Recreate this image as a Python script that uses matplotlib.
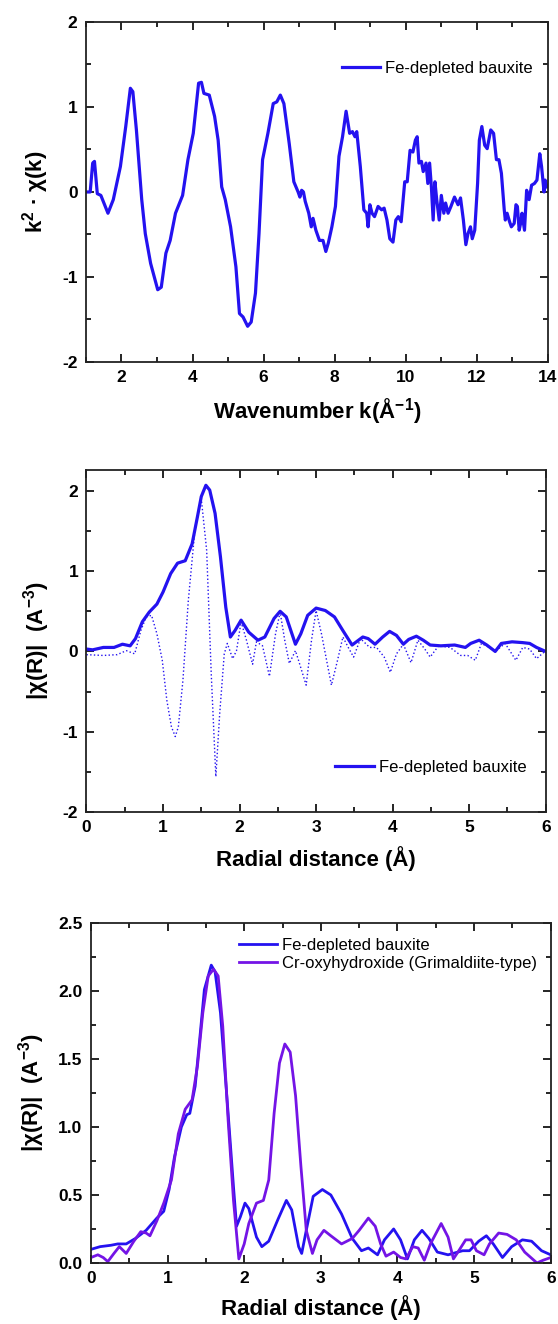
import matplotlib
matplotlib.use('Agg')
import matplotlib.pyplot as plt
from matplotlib.ticker import MultipleLocator, FormatStrFormatter

plt.rcParams['font.family'] = ['Liberation Sans', 'DejaVu Sans']
plt.rcParams['mathtext.default'] = 'regular'
plt.rcParams['axes.unicode_minus'] = False

# panel 1: k-space EXAFS
k = [1.0, 1.12, 1.19, 1.24, 1.32, 1.42, 1.62, 1.77, 1.97, 2.12, 2.25, 2.32, 2.42, 2.57, 2.67,
     2.82, 3.02, 3.12, 3.25, 3.37, 3.52, 3.72, 3.87, 4.02, 4.17, 4.25, 4.32, 4.47, 4.62, 4.72,
     4.82, 4.92, 5.07, 5.22, 5.32, 5.42, 5.55, 5.65, 5.77, 5.87, 5.97, 6.12, 6.27, 6.37, 6.47,
     6.57, 6.72, 6.85, 6.97, 7.02, 7.07, 7.12, 7.17, 7.27, 7.34, 7.39, 7.47, 7.57, 7.67, 7.75,
     7.82, 7.92, 8.02, 8.12, 8.22, 8.32, 8.42, 8.5, 8.57, 8.62, 8.72, 8.82, 8.9, 8.94, 8.99,
     9.05, 9.12, 9.22, 9.32, 9.39, 9.47, 9.55, 9.64, 9.72, 9.79, 9.87, 9.97, 10.04, 10.12, 10.2,
     10.27, 10.32, 10.37, 10.44, 10.49, 10.57, 10.62, 10.67, 10.72, 10.77, 10.82, 10.87, 10.94,
     11.0, 11.07, 11.12, 11.19, 11.27, 11.37, 11.47, 11.54, 11.62, 11.69, 11.75, 11.82, 11.87,
     11.94, 12.02, 12.07, 12.14, 12.22, 12.29, 12.39, 12.47, 12.55, 12.62, 12.69, 12.77, 12.8,
     12.85, 12.92, 12.97, 13.05, 13.1, 13.14, 13.19, 13.24, 13.27, 13.34, 13.4, 13.47, 13.54,
     13.62, 13.69, 13.77, 13.82, 13.89, 13.92, 13.97]
chi_k = [0.0, 0.0, 0.34, 0.36, -0.02, -0.04, -0.25, -0.09, 0.3, 0.77, 1.22, 1.18, 0.73, -0.09,
         -0.49, -0.84, -1.15, -1.12, -0.72, -0.57, -0.25, -0.04, 0.38, 0.69, 1.28, 1.29, 1.16,
         1.14, 0.89, 0.61, 0.06, -0.09, -0.41, -0.88, -1.43, -1.47, -1.58, -1.53, -1.19, -0.49,
         0.38, 0.69, 1.04, 1.06, 1.14, 1.04, 0.57, 0.12, 0.0, -0.06, 0.02, 0.0, -0.11, -0.25,
         -0.41, -0.31, -0.45, -0.57, -0.57, -0.70, -0.6, -0.41, -0.17, 0.42, 0.65, 0.95, 0.69,
         0.71, 0.65, 0.71, 0.3, -0.21, -0.25, -0.41, -0.15, -0.25, -0.29, -0.17, -0.21, -0.19,
         -0.33, -0.55, -0.59, -0.33, -0.29, -0.35, 0.12, 0.12, 0.49, 0.47, 0.61, 0.65, 0.34,
         0.36, 0.24, 0.34, 0.1, 0.34, 0.06, -0.33, 0.12, -0.09, -0.33, -0.04, -0.25, -0.13,
         -0.25, -0.17, -0.06, -0.15, -0.07, -0.33, -0.62, -0.49, -0.41, -0.55, -0.45, 0.1, 0.61,
         0.77, 0.55, 0.51, 0.73, 0.69, 0.38, 0.38, 0.22, -0.21, -0.33, -0.25, -0.35, -0.41,
         -0.37, -0.15, -0.17, -0.45, -0.35, -0.25, -0.45, 0.02, -0.09, 0.08, 0.1, 0.14, 0.45,
         0.3, 0.0, 0.14, 0.06]

# panel 2: Fourier transform magnitude and real part
r_mag = [0, 0.08, 0.22, 0.36, 0.47, 0.57, 0.64, 0.73, 0.82, 0.92, 1.0, 1.1, 1.19, 1.29, 1.38,
         1.45, 1.5, 1.56, 1.61, 1.68, 1.75, 1.82, 1.88, 1.94, 2.02, 2.12, 2.24, 2.33, 2.45, 2.53,
         2.61, 2.73, 2.8, 2.89, 3.0, 3.12, 3.24, 3.35, 3.47, 3.61, 3.68, 3.77, 3.87, 3.96, 4.05,
         4.14, 4.21, 4.31, 4.4, 4.49, 4.63, 4.81, 4.95, 5.02, 5.13, 5.23, 5.34, 5.42, 5.56, 5.7,
         5.79, 5.88, 6.0]
mag = [0.03, 0.02, 0.05, 0.05, 0.09, 0.07, 0.16, 0.37, 0.49, 0.59, 0.74, 0.97, 1.1, 1.13, 1.34,
       1.68, 1.93, 2.07, 2.01, 1.72, 1.18, 0.55, 0.18, 0.26, 0.39, 0.24, 0.14, 0.18, 0.41, 0.5,
       0.43, 0.09, 0.22, 0.45, 0.54, 0.51, 0.43, 0.26, 0.08, 0.18, 0.16, 0.09, 0.18, 0.25, 0.2,
       0.09, 0.15, 0.19, 0.14, 0.08, 0.07, 0.08, 0.05, 0.1, 0.14, 0.08, 0.0, 0.1, 0.12, 0.11,
       0.1, 0.05, 0.0]
r_re = [0, 0.22, 0.4, 0.52, 0.63, 0.71, 0.78, 0.85, 0.92, 0.99, 1.05, 1.11, 1.16, 1.2, 1.26,
        1.33, 1.42, 1.5, 1.57, 1.63, 1.69, 1.74, 1.8, 1.84, 1.91, 1.96, 2.02, 2.09, 2.17, 2.22,
        2.3, 2.39, 2.47, 2.53, 2.59, 2.65, 2.73, 2.77, 2.87, 2.94, 3.0, 3.07, 3.2, 3.28, 3.35,
        3.42, 3.49, 3.58, 3.7, 3.79, 3.89, 3.97, 4.05, 4.14, 4.24, 4.33, 4.42, 4.49, 4.6, 4.75,
        4.89, 4.98, 5.08, 5.16, 5.26, 5.34, 5.47, 5.61, 5.7, 5.79, 5.88, 6.0]
re = [-0.04, -0.05, -0.04, 0.01, -0.03, 0.26, 0.43, 0.45, 0.22, -0.11, -0.61, -0.94, -1.06,
      -0.94, -0.36, 0.63, 1.55, 1.9, 1.26, -0.28, -1.56, -0.78, -0.03, 0.1, -0.09, 0.01, 0.37,
      0.14, -0.16, 0.12, 0.07, -0.31, 0.22, 0.49, 0.14, -0.15, 0.01, -0.11, -0.42, 0.14, 0.51,
      0.22, -0.42, -0.11, 0.18, 0.05, -0.07, 0.16, 0.05, 0.05, -0.07, -0.26, -0.03, 0.09,
      -0.14, 0.14, 0.03, -0.07, 0.07, 0.05, -0.05, -0.05, -0.11, 0.1, 0.05, 0.0, 0.1, -0.11,
      0.05, 0.03, -0.09, 0.01]

# panel 3: comparison with reference
r_fe = [0, 0.12, 0.26, 0.35, 0.46, 0.58, 0.72, 0.86, 0.95, 1.02, 1.09, 1.18, 1.25, 1.29, 1.36,
        1.42, 1.48, 1.57, 1.62, 1.69, 1.79, 1.86, 1.9, 1.95, 2.01, 2.06, 2.16, 2.23, 2.32, 2.44,
        2.55, 2.62, 2.71, 2.75, 2.81, 2.9, 3.02, 3.13, 3.27, 3.41, 3.53, 3.62, 3.74, 3.83, 3.95,
        4.04, 4.13, 4.22, 4.32, 4.41, 4.52, 4.66, 4.85, 4.94, 5.06, 5.16, 5.25, 5.37, 5.49, 5.63,
        5.75, 5.88, 6.0]
fe = [0.1, 0.12, 0.13, 0.14, 0.14, 0.18, 0.24, 0.33, 0.38, 0.54, 0.78, 1.0, 1.09, 1.1, 1.3,
      1.65, 2.01, 2.19, 2.14, 1.84, 1.1, 0.56, 0.27, 0.34, 0.44, 0.4, 0.19, 0.12, 0.16, 0.32,
      0.46, 0.39, 0.12, 0.07, 0.24, 0.49, 0.54, 0.5, 0.36, 0.18, 0.09, 0.11, 0.06, 0.17, 0.25,
      0.17, 0.03, 0.17, 0.24, 0.18, 0.08, 0.06, 0.09, 0.09, 0.16, 0.2, 0.14, 0.04, 0.12, 0.17,
      0.16, 0.09, 0.06]
r_cr = [0, 0.09, 0.16, 0.22, 0.3, 0.37, 0.46, 0.56, 0.65, 0.72, 0.77, 0.86, 0.95, 1.05, 1.14,
        1.23, 1.32, 1.39, 1.46, 1.53, 1.6, 1.66, 1.72, 1.79, 1.86, 1.93, 2.0, 2.06, 2.16, 2.25,
        2.32, 2.39, 2.46, 2.53, 2.6, 2.67, 2.74, 2.81, 2.89, 2.95, 3.04, 3.13, 3.27, 3.41, 3.5,
        3.62, 3.71, 3.78, 3.85, 3.95, 4.04, 4.11, 4.2, 4.27, 4.35, 4.43, 4.57, 4.66, 4.73, 4.8,
        4.89, 4.96, 5.03, 5.13, 5.2, 5.32, 5.43, 5.55, 5.66, 5.82, 5.9, 6.0]
cr = [0.04, 0.06, 0.04, 0.01, 0.07, 0.12, 0.07, 0.16, 0.23, 0.22, 0.2, 0.31, 0.44, 0.61, 0.95,
      1.13, 1.2, 1.45, 1.84, 2.11, 2.16, 2.11, 1.74, 1.05, 0.46, 0.03, 0.14, 0.29, 0.44, 0.46,
      0.61, 1.1, 1.47, 1.61, 1.55, 1.23, 0.71, 0.24, 0.07, 0.17, 0.24, 0.2, 0.14, 0.18, 0.24,
      0.33, 0.27, 0.14, 0.05, 0.08, 0.04, 0.03, 0.12, 0.11, 0.02, 0.14, 0.29, 0.19, 0.03, 0.09,
      0.17, 0.17, 0.09, 0.06, 0.14, 0.22, 0.21, 0.17, 0.08, 0.0, 0.02, 0.04]

blue = '#2412f0'
purple = '#7414e6'

fig = plt.figure(figsize=(5.58, 13.24), dpi=100)
ax1 = fig.add_axes([0.154, 0.7266, 0.828, 0.2568])
ax2 = fig.add_axes([0.155, 0.3867, 0.823, 0.2583])
ax3 = fig.add_axes([0.163, 0.0461, 0.824, 0.2568])


def style(ax):
    for s in ax.spines.values():
        s.set_linewidth(1.3)
        s.set_color('#222222')
    ax.tick_params(which='both', direction='in', top=True, right=True, width=1.2,
                   labelsize=12.5, pad=6)
    ax.tick_params(which='major', length=6)
    ax.tick_params(which='minor', length=3.5)
    for t in ax.get_xticklabels() + ax.get_yticklabels():
        t.set_fontweight('bold')


#PLOT1
ax1.plot(k, chi_k, color=blue, lw=2.3, label='Fe-depleted bauxite', solid_joinstyle='round')
ax1.set_xlim(1, 14)
ax1.set_ylim(-2, 2)
ax1.xaxis.set_major_locator(MultipleLocator(2))
ax1.xaxis.set_minor_locator(MultipleLocator(1))
ax1.yaxis.set_major_locator(MultipleLocator(1))
ax1.yaxis.set_minor_locator(MultipleLocator(0.5))
ax1.set_xlabel('Wavenumber k(Å$^{-1}$)', fontsize=16, fontweight='bold', labelpad=8)
ax1.set_ylabel('k$^{2}$ · χ(k)', fontsize=16, fontweight='bold', labelpad=8)
ax1.legend(loc='upper right', frameon=False, fontsize=12, handlelength=2.3,
           handletextpad=0.3, bbox_to_anchor=(1.0, 0.93))
style(ax1)

#PLOT2
ax2.plot(r_mag, mag, color=blue, lw=2.3, label='Fe-depleted bauxite', solid_joinstyle='round')
ax2.plot(r_re, re, color=blue, lw=1.0, ls=':')
ax2.set_xlim(0, 6)
ax2.set_ylim(-2, 2.26)
ax2.xaxis.set_major_locator(MultipleLocator(1))
ax2.xaxis.set_minor_locator(MultipleLocator(0.5))
ax2.yaxis.set_major_locator(MultipleLocator(1))
ax2.yaxis.set_minor_locator(MultipleLocator(0.5))
ax2.set_xlabel('Radial distance (Å)', fontsize=16, fontweight='bold', labelpad=8)
ax2.set_ylabel('|χ(R)|  (A$^{-3}$)', fontsize=16, fontweight='bold', labelpad=8)
ax2.legend(loc='lower right', frameon=False, fontsize=12, handlelength=2.3,
           handletextpad=0.3, bbox_to_anchor=(0.99, 0.065))
style(ax2)

#PLOT3
ax3.plot(r_fe, fe, color=blue, lw=2.0, label='Fe-depleted bauxite', solid_joinstyle='round')
ax3.plot(r_cr, cr, color=purple, lw=2.0, label='Cr-oxyhydroxide (Grimaldiite-type)',
         solid_joinstyle='round')
ax3.set_xlim(0, 6)
ax3.set_ylim(0, 2.5)
ax3.xaxis.set_major_locator(MultipleLocator(1))
ax3.xaxis.set_minor_locator(MultipleLocator(0.5))
ax3.yaxis.set_major_locator(MultipleLocator(0.5))
ax3.yaxis.set_minor_locator(MultipleLocator(0.25))
ax3.yaxis.set_major_formatter(FormatStrFormatter('%.1f'))
ax3.set_xlabel('Radial distance (Å)', fontsize=16, fontweight='bold', labelpad=6)
ax3.set_ylabel('|χ(R)|  (A$^{-3}$)', fontsize=16, fontweight='bold', labelpad=8)
ax3.legend(loc='upper right', frameon=False, fontsize=12, handlelength=2.3,
           handletextpad=0.3, labelspacing=0.2, bbox_to_anchor=(1.003, 1.0))
style(ax3)

plt.savefig('out.png', dpi=100)
